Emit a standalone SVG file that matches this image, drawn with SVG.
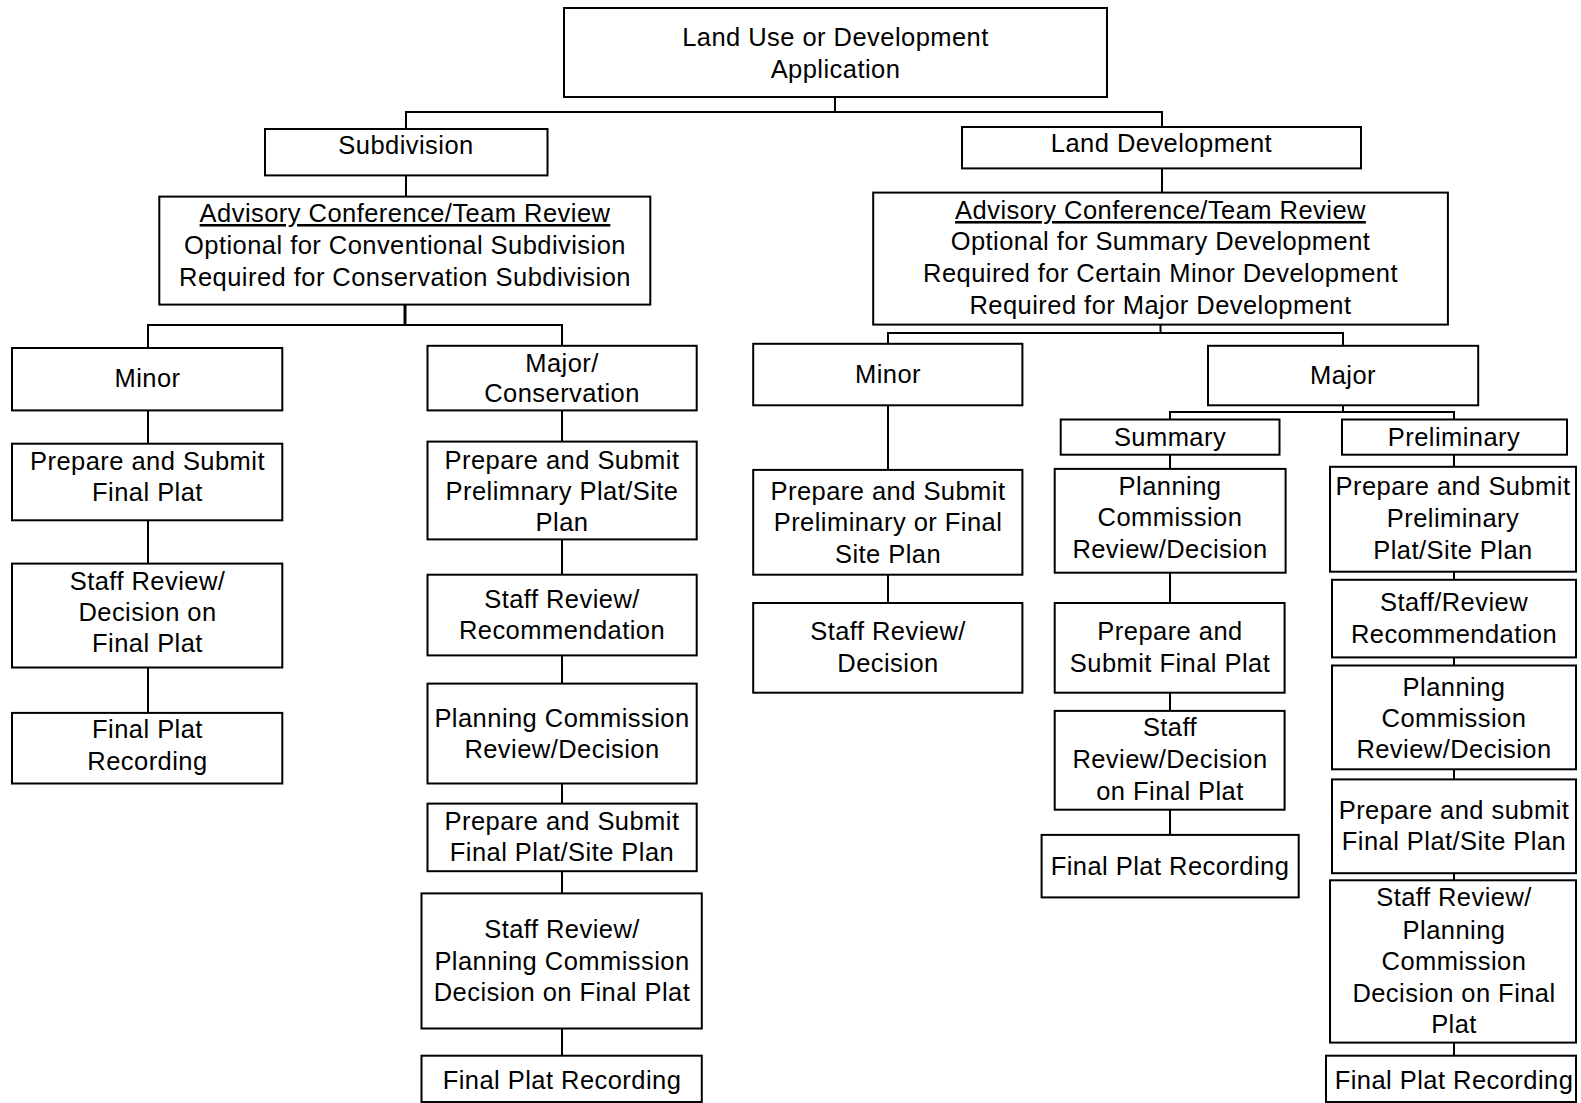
<svg xmlns="http://www.w3.org/2000/svg" width="1581" height="1103" viewBox="0 0 1581 1103">
<style>
.b{fill:#fff;stroke:#000;stroke-width:2}
.t{font-family:"Liberation Sans",Arial,sans-serif;font-size:25.5px;letter-spacing:0.45px;text-anchor:middle;fill:#000}
.c{fill:none;stroke:#000;stroke-width:2}
.u{text-decoration:underline}
</style>
<rect width="1581" height="1103" fill="#fff"/>
<g id="connectors">
<path class="c" d="M835 97V112M406 129V112H1162V127M406 175V197M1162 168V193"/>
<path class="c" d="M405 304V325" style="stroke-width:3"/>
<path class="c" d="M148 348V325H562V346M148 410V444M148 520V564M148 667V713"/>
<path class="c" d="M562 410V442M562 539V575M562 655V684M562 783V804M562 871V893M562 1028V1056"/>
<path class="c" d="M1160.5 325V333M888 344V333H1343V346M888 405V470M888 575V603"/>
<path class="c" d="M1343 405V412M1170 420V412H1454V420M1170 455V469M1170 573V603M1170 693V711M1170 810V835"/>
<path class="c" d="M1454 455V467M1454 572V580M1454 657V666M1454 769V779M1454 873V880M1454 1043V1056"/>
</g>
<g id="n-root"><rect class="b" x="564" y="8" width="543" height="89"/><text class="t" x="835.5" y="45.5">Land Use or Development</text><text class="t" x="835.5" y="77.5">Application</text></g>
<g id="n-subdivision"><rect class="b" x="265" y="129" width="282.5" height="46.4"/><text class="t" x="406" y="154">Subdivision</text></g>
<g id="n-landdev"><rect class="b" x="962" y="127" width="399" height="41.4"/><text class="t" x="1161.5" y="152">Land Development</text></g>
<g id="n-adv-left"><rect class="b" x="159.3" y="196.6" width="491" height="108"/><text class="t u" x="405" y="222">Advisory Conference/Team Review</text><text class="t" x="405" y="254">Optional for Conventional Subdivision</text><text class="t" x="405" y="285.5">Required for Conservation Subdivision</text></g>
<g id="n-adv-right"><rect class="b" x="873.2" y="192.6" width="574.7" height="132"/><text class="t u" x="1160.5" y="219">Advisory Conference/Team Review</text><text class="t" x="1160.5" y="250">Optional for Summary Development</text><text class="t" x="1160.5" y="282">Required for Certain Minor Development</text><text class="t" x="1160.5" y="313.5">Required for Major Development</text></g>

<g id="n-sub-minor"><rect class="b" x="12" y="348" width="270.3" height="62.4"/><text class="t" x="147.5" y="387">Minor</text></g>
<g id="n-sub-minor-1"><rect class="b" x="12" y="443.7" width="270.3" height="76.6"/><text class="t" x="147.5" y="470">Prepare and Submit</text><text class="t" x="147.5" y="501">Final Plat</text></g>
<g id="n-sub-minor-2"><rect class="b" x="12" y="563.6" width="270.3" height="103.9"/><text class="t" x="147.5" y="590">Staff Review/</text><text class="t" x="147.5" y="621">Decision on</text><text class="t" x="147.5" y="652">Final Plat</text></g>
<g id="n-sub-minor-3"><rect class="b" x="12" y="712.9" width="270.3" height="70.6"/><text class="t" x="147.5" y="738">Final Plat</text><text class="t" x="147.5" y="770">Recording</text></g>

<g id="n-sub-major"><rect class="b" x="427.5" y="345.8" width="269.2" height="64.6"/><text class="t" x="562" y="372">Major/</text><text class="t" x="562" y="402">Conservation</text></g>
<g id="n-sub-major-1"><rect class="b" x="427.5" y="441.6" width="269.2" height="97.8"/><text class="t" x="562" y="469">Prepare and Submit</text><text class="t" x="562" y="500">Prelimnary Plat/Site</text><text class="t" x="562" y="531">Plan</text></g>
<g id="n-sub-major-2"><rect class="b" x="427.5" y="574.7" width="269.2" height="80.7"/><text class="t" x="562" y="608">Staff Review/</text><text class="t" x="562" y="639">Recommendation</text></g>
<g id="n-sub-major-3"><rect class="b" x="427.5" y="683.6" width="269.2" height="99.9"/><text class="t" x="562" y="727">Planning Commission</text><text class="t" x="562" y="758">Review/Decision</text></g>
<g id="n-sub-major-4"><rect class="b" x="427.5" y="803.6" width="269.2" height="67.6"/><text class="t" x="562" y="830">Prepare and Submit</text><text class="t" x="562" y="861">Final Plat/Site Plan</text></g>
<g id="n-sub-major-5"><rect class="b" x="421.5" y="893.4" width="280.3" height="135.1"/><text class="t" x="562" y="938">Staff Review/</text><text class="t" x="562" y="970">Planning Commission</text><text class="t" x="562" y="1001">Decision on Final Plat</text></g>
<g id="n-sub-major-6"><rect class="b" x="421.5" y="1055.7" width="280.3" height="46.3"/><text class="t" x="562" y="1089">Final Plat Recording</text></g>

<g id="n-ld-minor"><rect class="b" x="753.2" y="343.8" width="269.2" height="61.5"/><text class="t" x="888" y="383">Minor</text></g>
<g id="n-ld-minor-1"><rect class="b" x="753.2" y="469.9" width="269.2" height="104.8"/><text class="t" x="888" y="500">Prepare and Submit</text><text class="t" x="888" y="531">Preliminary or Final</text><text class="t" x="888" y="562.5">Site Plan</text></g>
<g id="n-ld-minor-2"><rect class="b" x="753.2" y="603" width="269.2" height="89.7"/><text class="t" x="888" y="640">Staff Review/</text><text class="t" x="888" y="671.5">Decision</text></g>

<g id="n-ld-major"><rect class="b" x="1208" y="345.8" width="270.2" height="59.5"/><text class="t" x="1343" y="384">Major</text></g>
<g id="n-summary"><rect class="b" x="1060.7" y="419.5" width="218.8" height="35.2"/><text class="t" x="1170" y="445.5">Summary</text></g>
<g id="n-summary-1"><rect class="b" x="1054.7" y="468.9" width="230.9" height="103.8"/><text class="t" x="1170" y="495">Planning</text><text class="t" x="1170" y="526">Commission</text><text class="t" x="1170" y="557.5">Review/Decision</text></g>
<g id="n-summary-2"><rect class="b" x="1054.7" y="603" width="229.9" height="89.7"/><text class="t" x="1170" y="640">Prepare and</text><text class="t" x="1170" y="671.5">Submit Final Plat</text></g>
<g id="n-summary-3"><rect class="b" x="1054.7" y="710.9" width="229.9" height="98.8"/><text class="t" x="1170" y="736">Staff</text><text class="t" x="1170" y="768">Review/Decision</text><text class="t" x="1170" y="800">on Final Plat</text></g>
<g id="n-summary-4"><rect class="b" x="1041.6" y="834.9" width="257.1" height="62.5"/><text class="t" x="1170" y="875">Final Plat Recording</text></g>

<g id="n-prelim"><rect class="b" x="1342" y="419.5" width="225" height="35.2"/><text class="t" x="1454" y="445.5">Preliminary</text></g>
<g id="n-prelim-1"><rect class="b" x="1330" y="466.8" width="246" height="104.9"/><text class="t" x="1453" y="495">Prepare and Submit</text><text class="t" x="1453" y="527">Preliminary</text><text class="t" x="1453" y="558.5">Plat/Site Plan</text></g>
<g id="n-prelim-2"><rect class="b" x="1332" y="579.8" width="244" height="77.6"/><text class="t" x="1454" y="611">Staff/Review</text><text class="t" x="1454" y="643">Recommendation</text></g>
<g id="n-prelim-3"><rect class="b" x="1332" y="665.5" width="244" height="103.8"/><text class="t" x="1454" y="695.5">Planning</text><text class="t" x="1454" y="727">Commission</text><text class="t" x="1454" y="758">Review/Decision</text></g>
<g id="n-prelim-4"><rect class="b" x="1332" y="779.4" width="244" height="93.8"/><text class="t" x="1454" y="818.5">Prepare and submit</text><text class="t" x="1454" y="850">Final Plat/Site Plan</text></g>
<g id="n-prelim-5"><rect class="b" x="1330" y="880.3" width="246" height="162.3"/><text class="t" x="1454" y="906">Staff Review/</text><text class="t" x="1454" y="938.5">Planning</text><text class="t" x="1454" y="970">Commission</text><text class="t" x="1454" y="1002">Decision on Final</text><text class="t" x="1454" y="1033">Plat</text></g>
<g id="n-prelim-6"><rect class="b" x="1326" y="1055.7" width="250" height="46.3"/><text class="t" x="1454" y="1089">Final Plat Recording</text></g>
</svg>
